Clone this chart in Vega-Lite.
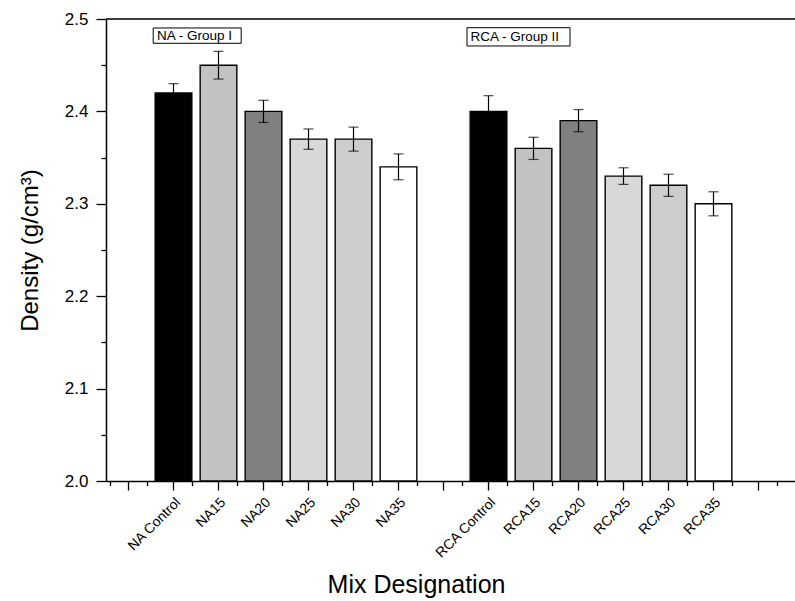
{
  "$schema": "https://vega.github.io/schema/vega-lite/v6.json",
  "width": 689,
  "height": 462,
  "autosize": "none",
  "padding": {"left": 106, "top": 19, "right": 0, "bottom": 120},
  "background": "white",
  "data": {"values": [{}]},
  "config": {
    "view": {"stroke": null},
    "font": "Liberation Sans",
    "axis": {
      "grid": false,
      "domainColor": "black",
      "domainWidth": 1.5,
      "tickColor": "black",
      "tickWidth": 1.3,
      "labelColor": "black",
      "titleColor": "black",
      "labelFont": "Liberation Sans",
      "titleFont": "Liberation Sans",
      "titleFontWeight": "normal"
    }
  },
  "datasets": {
    "mix": [
      {"mix": "NA Control", "group": "NA - Group I", "level": "Control", "density": 2.42, "sd": 0.010},
      {"mix": "NA15", "group": "NA - Group I", "level": "15", "density": 2.45, "sd": 0.015},
      {"mix": "NA20", "group": "NA - Group I", "level": "20", "density": 2.40, "sd": 0.012},
      {"mix": "NA25", "group": "NA - Group I", "level": "25", "density": 2.37, "sd": 0.011},
      {"mix": "NA30", "group": "NA - Group I", "level": "30", "density": 2.37, "sd": 0.013},
      {"mix": "NA35", "group": "NA - Group I", "level": "35", "density": 2.34, "sd": 0.014},
      {"mix": "RCA Control", "group": "RCA - Group II", "level": "Control", "density": 2.40, "sd": 0.017},
      {"mix": "RCA15", "group": "RCA - Group II", "level": "15", "density": 2.36, "sd": 0.012},
      {"mix": "RCA20", "group": "RCA - Group II", "level": "20", "density": 2.39, "sd": 0.012},
      {"mix": "RCA25", "group": "RCA - Group II", "level": "25", "density": 2.33, "sd": 0.009},
      {"mix": "RCA30", "group": "RCA - Group II", "level": "30", "density": 2.32, "sd": 0.012},
      {"mix": "RCA35", "group": "RCA - Group II", "level": "35", "density": 2.30, "sd": 0.013}
    ]
  },
  "layer": [
    {
      "data": {"name": "mix"},
      "mark": {"type": "bar", "stroke": "black", "strokeWidth": 1.4},
      "encoding": {
        "x": {
          "field": "mix",
          "type": "nominal",
          "sort": null,
          "scale": {
            "domain": ["_a", "NA Control", "NA15", "NA20", "NA25", "NA30", "NA35", "_b", "RCA Control", "RCA15", "RCA20", "RCA25", "RCA30", "RCA35", "_c", "_d"],
            "range": [0, 720],
            "paddingInner": 0.185,
            "paddingOuter": 0.0925
          },
          "axis": {
            "orient": "bottom",
            "tickSize": 9,
            "labelAngle": -45,
            "labelFontSize": 14,
            "labelPadding": 5,
            "labelOverlap": false,
            "labelExpr": "slice(datum.label, 0, 1) == '_' ? '' : datum.label",
            "title": "Mix Designation",
            "titleFontSize": 25,
            "titleX": 310,
            "titleY": 111,
            "titleBaseline": "alphabetic",
            "titleAlign": "center"
          }
        },
        "y": {
          "field": "density",
          "type": "quantitative",
          "scale": {"domain": [2.0, 2.5], "zero": false, "nice": false},
          "axis": {
            "orient": "left",
            "values": [2.0, 2.1, 2.2, 2.3, 2.4, 2.5],
            "format": ".1f",
            "tickSize": 10,
            "labelFontSize": 17,
            "labelPadding": 8,
            "title": "Density (g/cm³)",
            "titleFontSize": 24,
            "titleAngle": -90,
            "titleX": -69,
            "titleY": 231,
            "titleBaseline": "alphabetic",
            "titleAlign": "center"
          }
        },
        "y2": {"datum": 2.0},
        "fill": {
          "field": "level",
          "type": "nominal",
          "scale": {
            "domain": ["Control", "15", "20", "25", "30", "35"],
            "range": ["#000000", "#c2c2c2", "#808080", "#d8d8d8", "#cdcdcd", "#ffffff"]
          },
          "legend": null
        }
      }
    },
    {
      "data": {"name": "mix"},
      "mark": {"type": "errorbar", "ticks": true, "size": 10, "thickness": 1.2, "color": "black"},
      "encoding": {
        "x": {
          "field": "mix",
          "type": "nominal",
          "sort": null,
          "axis": {
            "orient": "bottom",
            "tickBand": "extent",
            "tickSize": 4.5,
            "labels": false,
            "domain": false,
            "title": null
          }
        },
        "y": {
          "field": "density",
          "type": "quantitative",
          "axis": {
            "orient": "left",
            "values": [2.05, 2.15, 2.25, 2.35, 2.45],
            "tickSize": 5,
            "labels": false,
            "domain": false,
            "title": null
          }
        },
        "yError": {"field": "sd"}
      }
    },
    {
      "mark": {"type": "rule", "color": "black", "strokeWidth": 1.5},
      "encoding": {
        "y": {"datum": 2.5, "axis": null}
      }
    },
    {
      "mark": {"type": "bar", "fill": "white", "stroke": "black", "strokeWidth": 1, "width": 88, "xOffset": 23.7},
      "encoding": {
        "x": {"datum": "NA Control", "axis": null},
        "y": {"datum": 2.4903, "axis": null},
        "y2": {"datum": 2.4737}
      }
    },
    {
      "mark": {"type": "text", "text": "NA - Group I", "align": "left", "baseline": "middle", "dx": -16.5, "fontSize": 13.5, "font": "Liberation Sans", "color": "black"},
      "encoding": {
        "x": {"datum": "NA Control", "axis": null},
        "y": {"datum": 2.4818, "axis": null}
      }
    },
    {
      "mark": {"type": "bar", "fill": "white", "stroke": "black", "strokeWidth": 1, "width": 103, "xOffset": 30},
      "encoding": {
        "x": {"datum": "RCA Control", "axis": null},
        "y": {"datum": 2.4906, "axis": null},
        "y2": {"datum": 2.4708}
      }
    },
    {
      "mark": {"type": "text", "text": "RCA - Group II", "align": "left", "baseline": "middle", "dx": -18, "fontSize": 13.5, "font": "Liberation Sans", "color": "black"},
      "encoding": {
        "x": {"datum": "RCA Control", "axis": null},
        "y": {"datum": 2.4807, "axis": null}
      }
    }
  ],
  "resolve": {"axis": {"x": "independent", "y": "independent"}}
}
